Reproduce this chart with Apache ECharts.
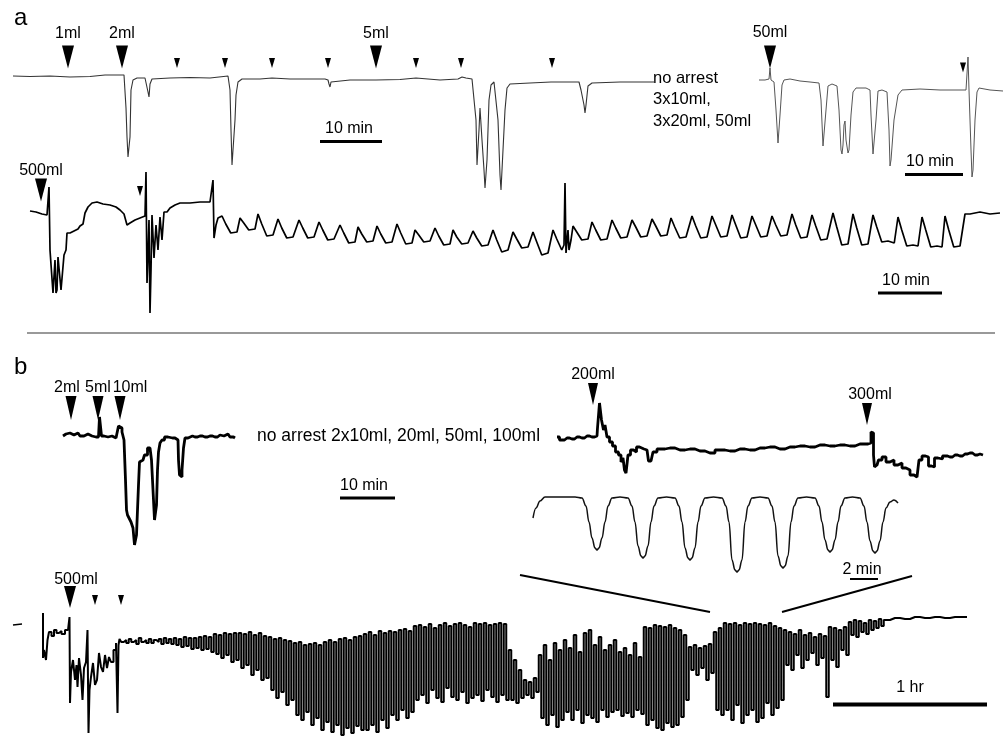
<!DOCTYPE html>
<html><head><meta charset="utf-8">
<script src="https://cdn.jsdelivr.net/npm/echarts@6/dist/echarts.min.js"></script>
<style>html,body{margin:0;padding:0;background:#fff}#c{width:1003px;height:738px}</style>
</head><body><div id="c"></div>
<script>
// ---------- DATA (time in min, signal relative to baseline, arbitrary units) ----------
// Panel a, top-left trace
const a1Trace = [[0.16,0],[2.88,-0.5],[6.08,0],[9.28,-1],[12.48,-0.5],[14.88,1],[17.92,1],[18.08,1],[18.24,-32],[18.4,-61],[18.56,-81],[18.72,-81],[18.88,-61],[19.04,-14],[19.36,-4],[20.0,-2],[21.28,-2],[21.6,-3],[21.76,-16],[21.92,-21],[22.08,-8],[22.4,-3],[25.28,-2],[28.48,-1.5],[31.68,-2],[34.56,0],[34.72,1],[34.88,-14],[35.04,-54],[35.2,-89],[35.52,-89],[35.68,-44],[35.84,-19],[36.16,-6],[36.8,-3],[39.68,-3],[41.6,-2],[44.48,-3],[47.68,-3],[50.08,-3],[50.56,-4],[50.72,-8],[50.88,-11],[51.04,-6],[51.36,-4],[54.08,-4],[58.24,-4],[62.08,-3.5],[64.64,-2],[64.96,-3],[68.48,-4],[71.36,-3],[72.0,-1],[72.64,-2],[73.6,-3],[73.92,-4],[74.24,-44],[74.4,-89],[74.56,-89],[74.72,-54],[74.88,-32],[75.04,-31],[75.2,-64],[75.52,-94],[75.68,-112],[75.84,-112],[76.0,-84],[76.32,-24],[76.64,-9],[77.12,-6],[77.44,-8],[77.76,-44],[78.08,-99],[78.24,-114],[78.4,-114],[78.56,-74],[78.88,-34],[79.2,-12],[79.68,-8],[82.88,-7],[86.24,-6],[90.08,-6],[90.72,-6],[91.04,-14],[91.52,-29],[91.68,-37],[91.84,-29],[92.16,-10],[92.8,-7],[97.28,-6],[101.28,-6],[102.88,-6]];
const a1BigT = [8.96, 17.6, 58.24];
const a1BigLabels = ['1ml', '2ml', '5ml'];
const a1SmallT = [26.4, 34.08, 41.6, 50.56, 64.64, 71.84, 86.4];

// Panel a, top-right trace
const a2Trace = [[0,0],[0.96,0],[1.6,1],[1.76,12],[1.92,0],[2.4,-2],[2.72,-30],[3.04,-63],[3.2,-63],[3.36,-35],[3.68,-5],[4.0,0],[4.96,1],[6.56,-1],[8.16,-2],[9.6,-3],[9.92,-20],[10.24,-66],[10.4,-66],[10.72,-30],[11.04,-6],[11.68,-4],[12.48,-6],[12.8,-30],[13.12,-70],[13.28,-74],[13.44,-65],[13.6,-45],[13.76,-41],[13.92,-60],[14.24,-73],[14.4,-70],[14.72,-35],[15.04,-12],[15.52,-8],[17.12,-8],[17.76,-10],[17.92,-35],[18.24,-74],[18.4,-74],[18.72,-40],[19.04,-11],[19.68,-10],[20.48,-12],[20.8,-50],[20.96,-86],[21.12,-80],[21.6,-40],[22.24,-15],[22.88,-10],[25.76,-9],[28.96,-10],[33.12,-10],[33.28,-9],[33.44,23],[33.6,-10],[33.92,-70],[34.08,-97],[34.24,-90],[34.56,-40],[34.88,-12],[35.2,-8],[36.96,-10],[39.04,-11]];
const a2BigT = [1.76];
const a2BigLabels = ['50ml'];
const a2SmallT = [32.64];

// Panel a, long trace
const a3Stub = [[-3.5,52],[-2.6,51]];
const a3Trace = [[0,1],[0.96,0],[1.92,-2],[2.72,-3],[3.04,-3],[3.04,25],[3.2,25],[3.2,-38],[3.52,-38],[3.68,-81],[3.84,-81],[4.0,-48],[4.16,-81],[4.32,-78],[4.48,-45],[4.8,-45],[4.96,-78],[5.28,-78],[5.44,-43],[5.76,-38],[5.92,-21],[6.4,-21],[7.04,-19],[7.68,-17],[8.0,-14],[8.48,-12],[8.8,-1],[9.28,5],[9.92,9],[10.72,10],[11.68,8],[12.8,7],[13.76,5],[14.4,2],[15.04,-2],[15.52,-13],[16.0,-11],[16.8,-8],[17.6,-6],[18.4,-4],[18.56,40],[18.72,-71],[18.88,-43],[19.04,-8],[19.2,-101],[19.36,-58],[19.52,-3],[19.84,-46],[20.16,-13],[20.48,-38],[20.8,-5],[21.12,-28],[21.44,0],[21.92,0],[22.4,4],[23.2,7],[24.0,9],[25.6,9],[27.2,10],[28.8,10],[29.12,12],[29.28,32],[29.44,-26],[29.76,-13],[30.08,-6],
 [30.72,-4],[31.32,-12],[32.12,-21],[33.12,-20],
 [33.6,-6],[34.2,-11],[35.0,-18],[36.0,-17],
 [36.48,-2],[37.08,-12],[37.88,-24],[38.88,-23],
 [39.68,-7],[40.28,-16],[41.08,-26],[42.08,-25],
 [43.04,-8],[43.64,-16],[44.44,-26],[45.44,-25],
 [46.24,-10],[46.84,-18],[47.64,-28],[48.64,-27],
 [49.6,-13],[50.2,-21],[51.0,-31],[52.0,-30],
 [52.48,-15],[53.08,-22],[53.88,-30],[54.88,-29],
 [55.52,-14],[56.12,-22],[56.92,-31],[57.92,-30],
 [58.72,-12],[59.32,-21],[60.12,-32],[61.12,-31],
 [61.6,-18],[62.2,-23],[63.0,-30],[64.0,-29],
 [64.8,-16],[65.4,-24],[66.2,-33],[67.2,-32],
 [67.68,-18],[68.28,-25],[69.08,-32],[70.08,-31],
 [70.88,-19],[71.48,-26],[72.28,-34],[73.28,-33],
 [74.08,-18],[74.68,-28],[75.48,-40],[76.48,-38],
 [77.28,-20],[77.88,-27],[78.68,-36],[79.68,-35],
 [80.48,-20],[81.08,-30],[81.88,-43],[82.88,-41],
 [83.68,-18],[84.28,-27],[85.08,-38],
 [85.44,-33],[85.6,29],[85.76,-41],[86.08,-18],[86.24,-38],[86.56,-28],
 [86.88,-14],[87.48,-20],[88.28,-28],[89.28,-27],
 [89.92,-10],[90.52,-18],[91.32,-28],[92.32,-27],
 [93.12,-8],[93.72,-16],[94.52,-26],[95.52,-25],
 [96.32,-8],[96.92,-15],[97.72,-25],[98.72,-24],
 [99.52,-7],[100.12,-14],[100.92,-24],[101.92,-23],
 [102.56,-6],[103.16,-15],[103.96,-26],[104.96,-25],
 [105.92,-4],[106.52,-14],[107.32,-26],[108.32,-25],
 [109.12,-4],[109.72,-13],[110.52,-25],[111.52,-24],
 [112.32,-3],[112.92,-13],[113.72,-26],[114.72,-25],
 [115.52,-4],[116.12,-13],[116.92,-25],[117.92,-24],
 [118.72,-4],[119.32,-13],[120.12,-24],[121.12,-23],
 [121.92,-2],[122.52,-13],[123.32,-26],[124.32,-25],
 [125.12,-3],[125.72,-14],[126.52,-28],[127.52,-27],
 [128.48,-1],[129.08,-15],[129.88,-33],[130.88,-32],
 [131.68,-2],[132.28,-16],[133.08,-33],[134.08,-32],
 [134.88,-3],[135.48,-15],[136.28,-30],[137.28,-29],[138.28,-31],
 [138.88,-5],[139.48,-18],[140.28,-34],[141.28,-33],[142.08,-34],
 [142.72,-5],[143.32,-18],[144.12,-35],[145.12,-34],[145.92,-35],
 [146.4,-4],[147.0,-18],[147.8,-35],[148.8,-34],[149.12,-34],
 [149.6,-2],[150.4,-2],[152.0,0],[153.6,-2],[155.2,-1]];
const a3BigT = [1.76];
const a3BigLabels = ['500ml'];
const a3SmallT = [17.6];

// Panel b, left trace
const b1Trace = [[0,-1],[0.6,1],[1.4,2],[2.2,0],[3.0,2],[3.8,-1],[4.6,1],[5.4,-1],[6.2,-2],[7.0,-1],[7.2,-2],[7.4,18],[7.6,18],[7.8,-1],[8.6,-2],[9.4,-1],[10.2,-3],[11.0,-2],[11.2,9],[11.4,11],[11.6,7],[12.0,3],[12.4,-5],[12.6,-45],[12.8,-75],[13.0,-80],[13.4,-83],[13.8,-87],[14.2,-93],[14.4,-110],[14.6,-112],[14.8,-100],[15.0,-75],[15.2,-50],[15.4,-27],[16.0,-25],[16.6,-20],[17.2,-13],[17.6,-13],[17.8,-25],[18.2,-55],[18.4,-85],[18.6,-87],[18.8,-70],[19.0,-35],[19.2,-17],[19.6,-8],[20.0,-5],[20.6,-2],[21.4,-3],[22.4,-3],[23.0,-5],[23.2,-25],[23.4,-40],[23.6,-42],[24.0,-35],[24.2,-13],[24.6,-3],[25.4,-1],[26.4,-2],[27.4,-1],[28.4,-2],[29.4,-1],[30.4,-2],[31.4,0],[32.2,-1],[33.0,1],[33.8,-2],[34.4,-3]];
const b1T = [1.6, 7.0, 11.4];
const b1Labels = ['2ml', '5ml', '10ml'];

// Panel b, right trace
const b2Trace = [[0,1],[1.0,-2],[2.0,0],[3.0,-1],[4.0,1],[5.0,0],[6.0,2],[7.0,1],[8.0,2],[8.2,10],[8.4,10],[8.6,35],[8.8,33],[9.0,18],[9.2,20],[9.4,8],[9.8,13],[10.2,1],[10.8,-4],[11.4,-8],[12.0,-14],[12.6,-17],[13.0,-24],[13.4,-20],[13.6,-32],[14.0,-35],[14.4,-17],[15.0,-12],[15.6,-14],[16.2,-9],[16.8,-11],[18.0,-12],[18.6,-23],[19.0,-25],[19.4,-14],[20.6,-11],[22.6,-10],[24.6,-12],[26.6,-11],[28.6,-13],[30.6,-15],[32.6,-12],[34.6,-13],[36.6,-11],[38.6,-12],[40.6,-10],[42.6,-9],[44.6,-11],[46.6,-9],[48.6,-8],[50.6,-9],[52.6,-7],[54.6,-8],[56.6,-7],[58.6,-8],[60.6,-6],[62.2,-6],[62.6,-5],[63.0,6],[63.2,5],[63.4,-17],[63.6,-29],[64.0,-27],[64.6,-22],[65.4,-19],[66.2,-24],[67.0,-22],[67.8,-27],[68.6,-25],[69.4,-30],[70.2,-32],[71.0,-37],[71.8,-39],[72.2,-38],[72.6,-22],[73.4,-18],[74.0,-19],[74.6,-28],[75.2,-29],[75.8,-20],[76.6,-21],[77.6,-18],[78.6,-19],[79.6,-17],[80.6,-18],[81.6,-16],[82.6,-15],[83.6,-17],[84.6,-16],[85.2,-17]];
const b2Stub = [[88,-13],[89.2,-12]];
const b2T200 = [7.2], b2T300 = [62.0];

// Panel b, inset (expanded contractions)
const b3Trace = [[0,-21],[0.24,-11],[0.56,-4],[0.96,0],[2.16,0],[3.36,0],
 [3.92,-1],[4.24,-9],[4.48,-25],[4.72,-41],[4.96,-51],[5.12,-53],[5.28,-51],[5.52,-41],[5.76,-25],[6.0,-9],[6.32,-1],[6.96,0],
 [7.6,-1],[7.92,-9],[8.16,-25],[8.4,-49],[8.64,-59],[8.8,-61],[8.96,-59],[9.2,-49],[9.44,-25],[9.68,-9],[10.0,-1],[10.68,0],
 [11.36,-1],[11.68,-9],[11.92,-25],[12.16,-51],[12.4,-61],[12.56,-63],[12.72,-61],[12.96,-51],[13.2,-25],[13.44,-9],[13.76,-1],[14.44,0],
 [15.12,-1],[15.44,-9],[15.68,-25],[15.92,-63],[16.16,-73],[16.32,-75],[16.48,-73],[16.72,-63],[16.96,-25],[17.2,-9],[17.52,-1],[18.16,0],
 [18.8,-1],[19.12,-9],[19.36,-25],[19.6,-59],[19.84,-69],[20.0,-71],[20.16,-69],[20.4,-59],[20.64,-25],[20.88,-9],[21.2,-1],[21.88,0],
 [22.56,-1],[22.88,-9],[23.12,-25],[23.36,-43],[23.6,-53],[23.76,-55],[23.92,-53],[24.16,-43],[24.4,-25],[24.64,-9],[24.96,-1],[25.56,0],
 [26.16,-1],[26.48,-9],[26.72,-25],[26.96,-44],[27.2,-54],[27.36,-56],[27.52,-54],[27.76,-44],[28.0,-25],[28.24,-11],[28.56,-5],[28.88,-3],[29.2,-6]];

// Panel b, long trace: irregular start, then one high/low pair per contraction cycle (2 min apart), then tail
const b4Dash = [[0.4,15],[4.0,16]];
const b4Start = [[12.4,27],[12.4,-18],[13.2,-10],[14.0,-20],[14.4,0],[15.2,8],[16.4,4],[17.2,10],[18.4,7],[19.2,9],[20.4,6],[22.0,10],[22.8,9],[23.2,23],[23.2,-63],[24.0,-32],[24.8,-20],[25.6,-40],[26.0,-25],[26.4,-47],[27.2,-18],[28.0,-35],[28.4,-60],[29.2,-28],[30.0,-22],[30.4,10],[30.8,-93],[31.2,-50],[32.0,-37],[32.8,-23],[33.6,-45],[34.4,-40],[35.2,-13],[36.0,-27],[36.8,-32],[37.6,-15],[38.4,-28],[39.2,-17],[40.0,-22],[41.2,-10],[42.0,-3],[42.4,-73],[42.8,-5]];
const b4CycleStart = 43.2, b4CycleMin = 2;
const b4Hi = [1,0,1,0,2,0,1,0,1,2,1, 2,1,3,2,2,3,4,3, 6,5,7,6,7, 7,6,8,5,7,4, 3,1,2,0,-1, -3,-2,-5,-4,-3,-5,-2, 0,-2,1,2,0,3,4, 6,8,5,9,7, 9,8,10,11,9,
 14,15,13,16,12,15,17,14,16,17,15,13,17,16,17,15,16,17,16, -10,-20,-30, -40,-42,-38, -15,-5,-20,-3,-10,
 0,-8,5,-12,7,10,-5,3,-10, -5,0,-12,-8,-15,-3,-17, 13,12,15,14,13,15,12, 10,5,-7,-5,-8,-6,-4,8,12,
 17,16,17,15,17,16,17,16,15,17,14,12, 10,8,6,10,5,7,3,6,4, 13,12,10,13, 18,20,19,17,20,19,21];
const b4Lo = [-2,-3,-2,-4,-2,-3,-3,-2,-4,-3,-4, -5,-7,-6,-9,-8,-10,-9,-12, -14,-18,-15,-22,-20, -28,-25,-35,-30,-40,-38, -50,-58,-52,-65,-60, -75,-80,-72,-85,-78,-90,-82, -92,-85,-95,-88,-93,-86,-90, -90,-85,-92,-80,-88, -75,-80,-70,-78,-72,
 -60,-55,-63,-50,-58,-62,-48,-57,-60,-52,-63,-58,-55,-61,-50,-57,-62,-55,-60, -60,-63,-58, -55,-58,-52, -78,-85,-75,-87,-80,
 -72,-80,-70,-83,-75,-78,-82,-70,-77, -72,-70,-76,-73,-77,-70,-74, -85,-80,-88,-90,-83,-87,-85, -77,-60,-30,-35,-28,-40,-33,-70,-75,
 -70,-80,-65,-83,-75,-70,-82,-78,-63,-75,-68,-60, -25,-30,-15,-28,-20,-13,-25,-18,-57, -20,-27,-10,-15, 5,3,8,6,10,12,14];
const b4Tail = [[349.2,20],[353.2,22],[357.2,21],[361.2,23],[365.2,22],[369.2,23],[373.2,22],[377.2,23],[382,23]];
const b4BigT = [23.2];
const b4SmallT = [33.2, 43.6];

// ---------- CHART ----------
const FONT = 'Liberation Sans, Arial, Helvetica, sans-serif';
const TRI = 'path://M0,0L10,0L5,10Z';

// grid layout: [left, top, width, height, xMax, yMin, yMax]
const layout = [
  [12, 56, 650, 140, 104, -120, 20],     // a1
  [759, 56, 244, 130, 39.04, -106, 24],  // a2
  [30, 160, 970, 160, 155.2, -108, 52],  // a3
  [63, 400, 175, 160, 35, -125, 35],     // b1
  [557, 395, 430, 100, 86, -57, 43],     // b2
  [533, 490, 380, 90, 30.4, -83, 7],     // b3
  [12, 605, 955, 133, 382, -98, 35]      // b4
];
const grid = [], xAxis = [], yAxis = [];
layout.forEach((g, i) => {
  grid.push({left: g[0], top: g[1], width: g[2], height: g[3], containLabel: false});
  xAxis.push({type: 'value', gridIndex: i, min: 0, max: g[4], show: false});
  yAxis.push({type: 'value', gridIndex: i, min: g[5], max: g[6], show: false});
});

function trace(gi, data, color, width, extra) {
  return Object.assign({type: 'line', xAxisIndex: gi, yAxisIndex: gi, data: data, symbol: 'none', showSymbol: false,
    clip: false, silent: true, animation: false, lineStyle: {color: color, width: width, opacity: 1}, emphasis: {disabled: true}}, extra || {});
}
function arrows(gi, times, labels, level, size, dist, offsets) {
  return {type: 'scatter', xAxisIndex: gi, yAxisIndex: gi, symbol: TRI, symbolSize: size, clip: false, silent: true, z: 5,
    animation: false, itemStyle: {color: '#000', opacity: 1}, emphasis: {disabled: true},
    label: {show: !!labels, position: 'top', distance: dist, formatter: '{b}', fontSize: 16, fontFamily: FONT, color: '#000', opacity: 1},
    data: times.map((t, i) => ({value: [t, level], name: labels ? labels[i] : '',
      label: {offset: [offsets ? offsets[i] : 0, 0]}}))};
}

const b4Data = b4Start.slice();
b4Hi.forEach((h, i) => {
  const t = b4CycleStart + b4CycleMin * i;
  b4Data.push([t, h]);
  b4Data.push([t + b4CycleMin / 2, b4Lo[i]]);
});
b4Tail.forEach(p => b4Data.push(p));

const series = [
  trace(0, a1Trace, '#333', 1.1),
  arrows(0, a1BigT, a1BigLabels, 19, [12, 23], 4),
  arrows(0, a1SmallT, null, 13, [6, 10], 0),
  trace(1, a2Trace, '#555', 1),
  arrows(1, a2BigT, a2BigLabels, 23, [12, 23], 5),
  arrows(1, a2SmallT, null, 12.5, [6, 10], 0),
  trace(2, a3Stub, '#000', 1.5),
  trace(2, a3Trace, '#000', 1.7),
  arrows(2, a3BigT, a3BigLabels, 22, [12, 23], 0),
  arrows(2, a3SmallT, null, 21, [6, 10], 0),
  trace(3, b1Trace, '#000', 2.8, {step: 'middle'}),
  arrows(3, b1T, b1Labels, 27, [11, 24], 0, [-4, 0, 10]),
  trace(4, b2Trace, '#000', 2.8, {step: 'middle'}),
  trace(4, b2Stub, '#000', 2),
  arrows(4, b2T200, ['200ml'], 44, [10, 22], 0),
  arrows(4, b2T300, ['300ml'], 24, [10, 22], 0, [3]),
  trace(5, b3Trace, '#111', 1.5, {smooth: 0.4, smoothMonotone: 'x'}),
  trace(6, b4Dash, '#000', 1.6),
  trace(6, b4Data, '#000', 2, {step: 'middle'}),
  arrows(6, b4BigT, ['500ml'], 43, [12, 22], -2, [6]),
  arrows(6, b4SmallT, null, 40, [6, 10], 0)
];

function txt(x, y, s, size, align) {
  return {type: 'text', x: x, y: y, silent: true,
    style: {text: s, fontSize: size, fontFamily: FONT, fill: '#000', align: align || 'left', verticalAlign: 'middle'}};
}
function bar(x1, y1, x2, y2, w, c) {
  return {type: 'line', silent: true, shape: {x1: x1, y1: y1, x2: x2, y2: y2}, style: {stroke: c || '#000', lineWidth: w}};
}
const graphic = [
  txt(14, 18, 'a', 24), txt(14, 367, 'b', 24),
  txt(653, 78, 'no arrest', 16.5), txt(653, 99.5, '3x10ml,', 16.5), txt(653, 121, '3x20ml, 50ml', 16.5),
  txt(349, 129, '10 min', 16, 'center'), bar(320, 141.5, 382, 141.5, 3),
  txt(930, 162, '10 min', 16, 'center'), bar(905, 174.5, 963, 174.5, 3),
  txt(906, 281, '10 min', 16, 'center'), bar(878, 293, 942, 293, 3),
  bar(27, 333, 995, 333, 2, '#999'),
  txt(257, 436, 'no arrest 2x10ml, 20ml, 50ml, 100ml', 17.5),
  txt(364, 486, '10 min', 16, 'center'), bar(340, 498, 395, 498, 3),
  txt(862, 570, '2 min', 16, 'center'), bar(850, 579, 878, 579, 2),
  bar(520, 575, 710, 612, 2), bar(782, 612, 912, 576, 2),
  txt(910, 688, '1 hr', 16, 'center'), bar(833, 704.5, 987, 704.5, 4)
];

const chart = echarts.init(document.getElementById('c'), null, {renderer: 'canvas'});
chart.setOption({backgroundColor: '#fff', animation: false, grid, xAxis, yAxis, series, graphic, tooltip: {show: false}, legend: {show: false}});
</script></body></html>
